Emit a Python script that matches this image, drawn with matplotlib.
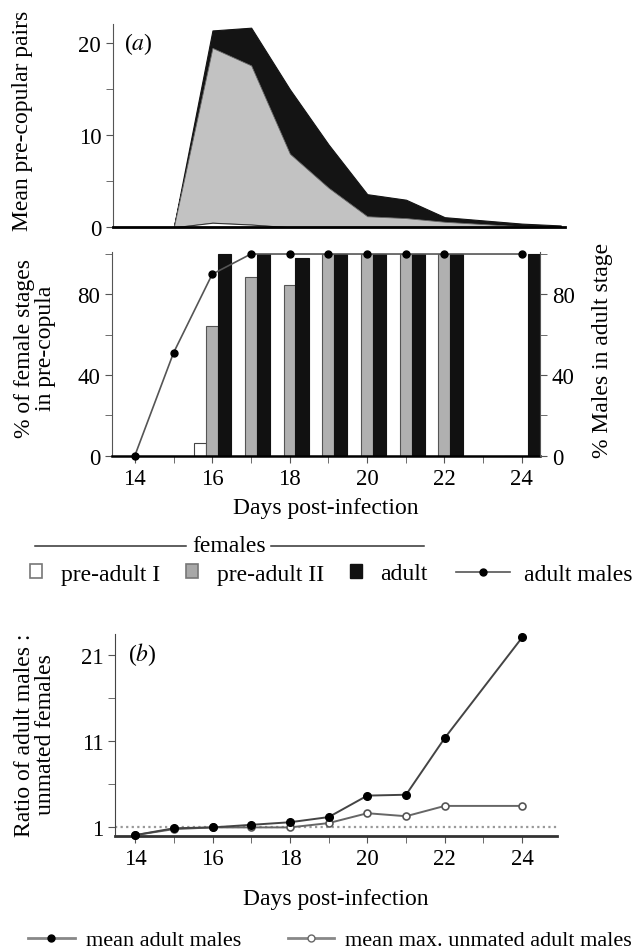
import numpy as np
import matplotlib
matplotlib.use("Agg")
import matplotlib.pyplot as plt
from matplotlib.patches import Patch
from matplotlib.lines import Line2D

plt.rcParams['font.family'] = ['Liberation Serif', 'DejaVu Serif']
plt.rcParams['mathtext.fontset'] = 'stix'

# (a) top: mean pre-copular pairs, stacked by female stage
days_a = [14, 15, 16, 17, 18, 19, 20, 21, 22, 24, 25]
pairs_pre1 = [0, 0, 0.5, 0.3, 0, 0, 0, 0, 0, 0, 0]
pairs_pre2 = [0, 0, 19.0, 17.3, 8.0, 4.3, 1.2, 1.0, 0.6, 0.1, 0.0]
pairs_adult = [0, 0, 1.9, 4.1, 7.0, 4.7, 2.4, 2.0, 0.5, 0.3, 0.2]

# (a) middle: % of female stages in pre-copula, % males adult
days_bar = [16, 17, 18, 19, 20, 21, 22, 24]
pct_pre1 = [6.5, 0, 0, 0, 0, 0, 0, 0]
pct_pre2 = [64.5, 88.5, 84.5, 100, 100, 100, 100, 0]
pct_adult = [100, 100, 98, 100, 100, 100, 100, 100]
days_males = [14, 15, 16, 17, 18, 19, 20, 21, 22, 24]
pct_males_adult = [0, 51, 90, 100, 100, 100, 100, 100, 100, 100]

# (b) ratio of adult males : unmated females
days_b = [14, 15, 16, 17, 18, 19, 20, 21, 22, 24]
ratio_mean = [0.1, 0.9, 1.0, 1.3, 1.6, 2.2, 4.7, 4.8, 11.4, 23.1]
ratio_max = [0.1, 0.8, 1.0, 1.0, 1.0, 1.5, 2.65, 2.3, 3.5, 3.5]

W, H = 633, 953
fig = plt.figure(figsize=(W / 100, H / 100), dpi=100)


def px_axes(x0, y0, x1, y1):
    return fig.add_axes([x0 / W, 1 - y1 / H, (x1 - x0) / W, (y1 - y0) / H])


FS = 17
TFS = 16.5

# ---- panel (a) top ----
ax1 = px_axes(113, 25, 565, 228.3)
d = np.array(days_a, dtype=float)
l1 = np.array(pairs_pre1)
l2 = l1 + np.array(pairs_pre2)
l3 = l2 + np.array(pairs_adult)
ax1.fill_between(d, l2, l3, facecolor='#141414', edgecolor='#141414', lw=0.8)
ax1.fill_between(d, l1, l2, facecolor='#c2c2c2', edgecolor='#666666', lw=0.6)
ax1.fill_between(d, 0, l1, facecolor='white', edgecolor='#333333', lw=0.8)
ax1.set_xlim(13.43, 25.11)
ax1.set_ylim(0, 22.1)
ax1.set_yticks([0, 10, 20])
ax1.set_yticks([5, 15], minor=True)
ax1.set_xticks([])
for s in ['top', 'right']:
    ax1.spines[s].set_visible(False)
ax1.spines['left'].set_color('#555555')
ax1.spines['bottom'].set_linewidth(2)
ax1.tick_params(axis='y', which='both', length=5, direction='out', labelsize=TFS, color='#555555')
ax1.set_ylabel('Mean pre-copular pairs', fontsize=FS, va='center')
ax1.yaxis.set_label_coords(-0.2, 0.53)
ax1.text(0.025, 0.97, r'($a$)', transform=ax1.transAxes, fontsize=FS, va='top', ha='left')

# ---- panel (a) middle ----
ax2 = px_axes(112, 253, 540, 456.7)
bw = 0.31
db = np.array(days_bar, dtype=float)
ax2.bar(db - bw, pct_pre1, width=bw, color='white', edgecolor='#444444', lw=0.8)
ax2.bar(db, pct_pre2, width=bw, color='#b0b0b0', edgecolor='#555555', lw=0.8)
ax2.bar(db + bw + 0.01, pct_adult, width=bw + 0.03, color='#111111', edgecolor='#111111', lw=0.8)
ax2.set_xlim(13.41, 24.47)
ax2.set_ylim(0, 101)
ax2.set_yticks([0, 40, 80])
ax2.set_yticks([20, 60, 100], minor=True)
ax2.set_xticks([14, 16, 18, 20, 22, 24])
ax2.set_xticks([15, 17, 19, 21, 23], minor=True)
for s in ['top', 'right']:
    ax2.spines[s].set_visible(False)
ax2.spines['left'].set_color('#555555')
ax2.spines['bottom'].set_linewidth(1.8)
ax2.tick_params(which='both', length=5, direction='out', labelsize=TFS, color='#555555')
ax2.set_ylabel('% of female stages\nin pre-copula', fontsize=FS, va='center', linespacing=1.0)
ax2.yaxis.set_label_coords(-0.18, 0.53)
ax2.set_xlabel('Days post-infection', fontsize=FS, labelpad=6)

ax2r = ax2.twinx()
ax2r.plot(days_males, pct_males_adult, color='#555555', lw=1.2, marker='o', ms=5,
          mfc='black', mec='black', clip_on=False)
ax2r.set_ylim(0, 101)
ax2r.set_yticks([0, 40, 80])
ax2r.set_yticks([20, 60, 100], minor=True)
for s in ['top', 'left', 'bottom']:
    ax2r.spines[s].set_visible(False)
ax2r.spines['right'].set_color('#555555')
ax2r.tick_params(which='both', length=5, direction='out', labelsize=TFS, color='#555555')
ax2r.set_ylabel('% Males in adult stage', fontsize=FS, va='center', rotation=90)
ax2r.yaxis.set_label_coords(1.145, 0.52)

# females legend
fig.add_artist(Line2D([35 / W, 186 / W], [1 - 547 / H] * 2, color='#333333', lw=1.1))
fig.add_artist(Line2D([271 / W, 424 / W], [1 - 547 / H] * 2, color='#333333', lw=1.1))
fig.text(229 / W, 1 - 547 / H, 'females', fontsize=FS, ha='center', va='center')
fig.legend(
    handles=[Patch(facecolor='white', edgecolor='#777777', lw=1.2),
             Patch(facecolor='#a8a8a8', edgecolor='#777777', lw=1.2),
             Patch(facecolor='#111111', edgecolor='#111111')],
    labels=['pre-adult I', 'pre-adult II', 'adult'],
    loc='center left', bbox_to_anchor=(30 / W, 1 - 575 / H), ncol=3, frameon=False,
    fontsize=FS, handlelength=0.5, handleheight=0.5, handletextpad=0.8,
    columnspacing=1.1, borderpad=0, borderaxespad=0)
fig.legend(
    handles=[Line2D([], [], color='#555555', lw=1.2, marker='o', ms=5, mfc='black', mec='black')],
    labels=['adult males'], loc='center left', bbox_to_anchor=(456 / W, 1 - 575 / H),
    frameon=False, fontsize=FS, handlelength=2.3, handletextpad=0.6,
    borderpad=0, borderaxespad=0)

# ---- panel (b) ----
ax3 = px_axes(115, 635, 557, 837)
ax3.axhline(1, color='#999999', lw=1.6, ls=(0, (1, 1.5)), zorder=1)
ax3.plot(days_b, ratio_max, color='#666666', lw=1.4, marker='o', ms=5,
         mfc='white', mec='#555555', mew=1.2, zorder=2, clip_on=False)
ax3.plot(days_b, ratio_mean, color='#444444', lw=1.4, marker='o', ms=5.5,
         mfc='black', mec='black', zorder=3, clip_on=False)
ax3.set_xlim(13.48, 24.9)
ax3.set_ylim(0, 23.5)
ax3.set_yticks([1, 11, 21])
ax3.set_yticks([6, 16], minor=True)
ax3.set_xticks([14, 16, 18, 20, 22, 24])
ax3.set_xticks([15, 17, 19, 21, 23], minor=True)
for s in ['top', 'right']:
    ax3.spines[s].set_visible(False)
ax3.spines['left'].set_color('#444444')
ax3.spines['bottom'].set_linewidth(2)
ax3.spines['bottom'].set_color('#333333')
ax3.tick_params(which='both', length=5, direction='out', labelsize=TFS, color='#555555')
ax3.set_ylabel('Ratio of adult males :\nunmated females', fontsize=FS, va='center', linespacing=1.0)
ax3.yaxis.set_label_coords(-0.18, 0.505)
ax3.set_xlabel('Days post-infection', fontsize=FS, labelpad=14)
ax3.text(0.03, 0.97, r'($b$)', transform=ax3.transAxes, fontsize=FS, va='top', ha='left')

fig.legend(
    handles=[Line2D([], [], color='#888888', lw=2, marker='o', ms=5, mfc='black', mec='black'),
             Line2D([], [], color='#888888', lw=2, marker='o', ms=5, mfc='white', mec='#666666')],
    labels=['mean adult males', 'mean max. unmated adult males'],
    loc='center left', bbox_to_anchor=(28 / W, 1 - 941 / H), ncol=2, frameon=False,
    fontsize=16, handlelength=2.1, handletextpad=0.5, columnspacing=2.1,
    borderpad=0, borderaxespad=0)

fig.savefig('out.png', dpi=100)
